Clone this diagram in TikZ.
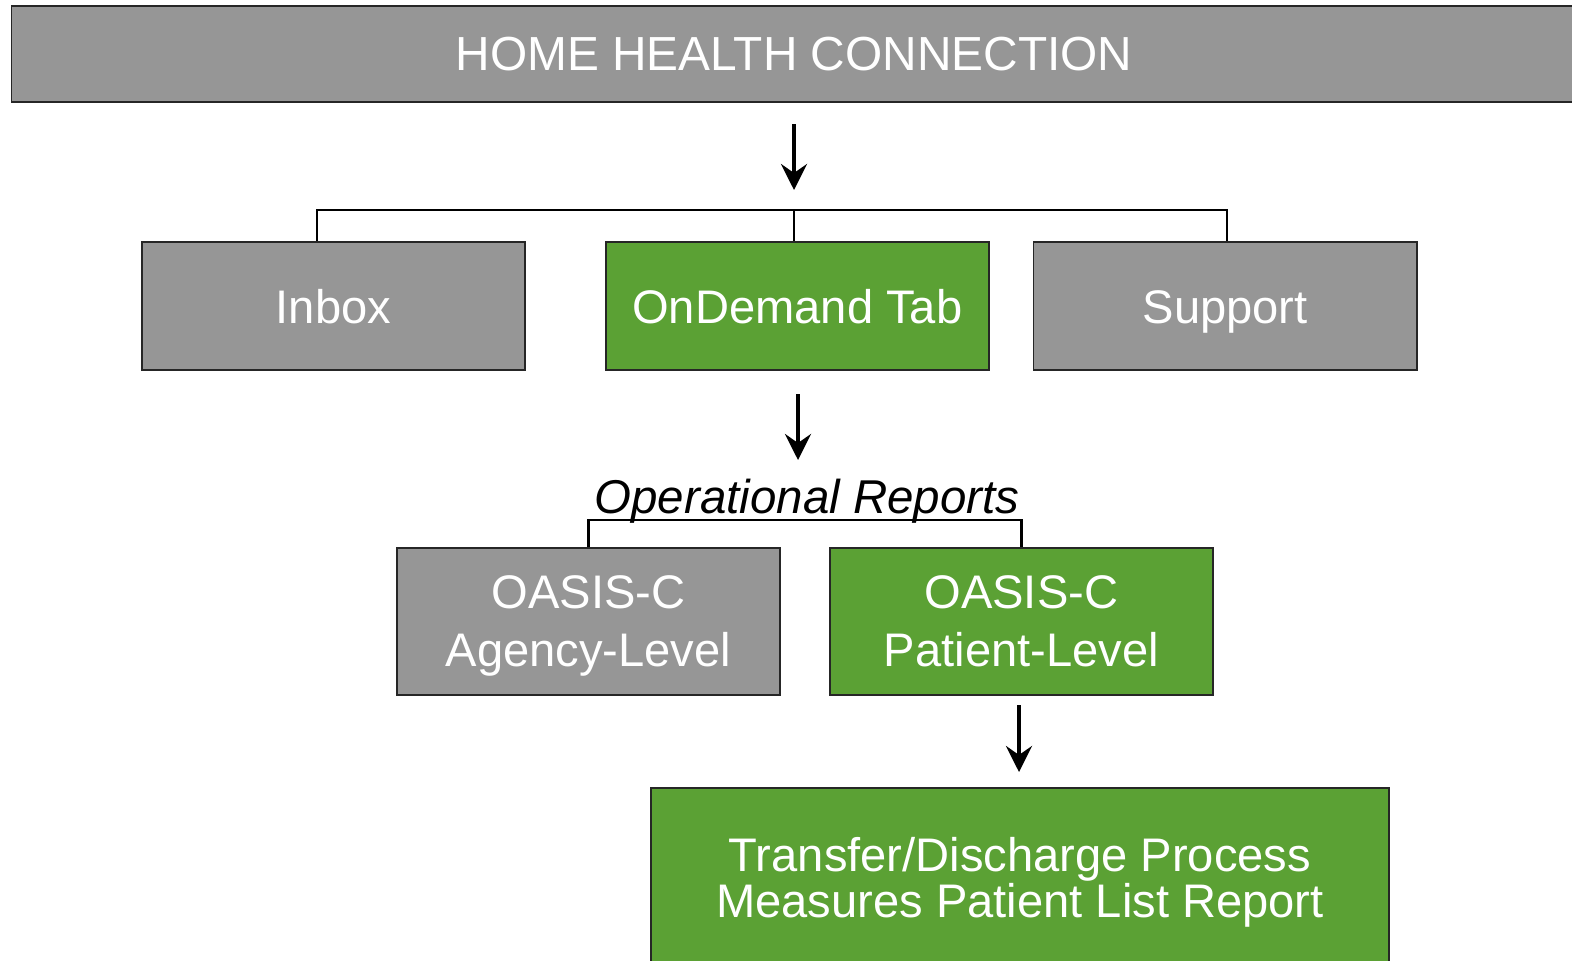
\documentclass[tikz,border=0pt]{standalone}
\usepackage{fontspec}
\setmainfont{Liberation Sans}
\usepackage{tikz}
\usetikzlibrary{arrows.meta, positioning}
\definecolor{boxgray}{RGB}{150,150,150}
\definecolor{boxgreen}{RGB}{91,161,52}

\begin{document}
\begin{tikzpicture}[x=0.01cm, y=-0.01cm,
        graybox/.style={draw=black!85, line width=0.45pt, fill=boxgray, text=white, align=center, inner sep=0pt, font=\fontsize{13.4}{16.5}\selectfont},
        greenbox/.style={graybox, fill=boxgreen},
        tabbox/.style={minimum width=3.83cm, minimum height=1.28cm, text height=10pt, text depth=0pt},
        levelbox/.style={minimum width=3.83cm, minimum height=1.47cm, text depth=0pt},
        downarrow/.style={-{Stealth[length=2.6mm, width=2.6mm, inset=0.9mm]}, line width=1.1pt},
        bracket/.style={line width=0.7pt}]
        \useasboundingbox (0,0) rectangle (1572,960);

        % Top bar
        \node[graybox, minimum width=15.64cm, minimum height=0.96cm, font=\fontsize{13.6}{16.5}\selectfont] (hhc) at (794,54) {HOME HEALTH CONNECTION};

        % Tabs
        \node[graybox, tabbox] (inbox) at (333.5,306) {Inbox};
        \node[greenbox, tabbox, right=0.79cm of inbox] (ondemand) {OnDemand Tab};
        \node[graybox, tabbox, right=0.43cm of ondemand] (support) {Support};

        % Arrow and bracket to tabs
        \coordinate (a1top) at (794,124);
        \coordinate (a1tip) at (794,190);
        \draw[downarrow] (a1top) -- (a1tip);
        \coordinate (brL) at (317,210);
        \coordinate (brR) at (1227,210);
        \draw[bracket] (brL |- inbox.north) -- (brL) -- (brR) -- (brR |- support.north);
        \draw[bracket] (a1tip |- brL) -- (a1tip |- ondemand.north);

        % Operational reports
        \coordinate (a2top) at (798,394);
        \coordinate (a2tip) at (798,460);
        \draw[downarrow] (a2top) -- (a2tip);
        \node[font=\fontsize{13.5}{16}\selectfont\itshape, inner sep=0pt] (opreports) at (807,501) {Operational Reports};

        \node[graybox, levelbox] (agency) at (588.5,621.5) {OASIS-C\\Agency-Level};
        \node[greenbox, levelbox, right=0.48cm of agency] (patient) {OASIS-C\\Patient-Level};
        \draw[bracket] (agency.north) -- ++(0,-27) -| (patient.north);

        % Report
        \coordinate (a3top) at (1019,705);
        \coordinate (a3tip) at (1019,772);
        \draw[downarrow] (a3top) -- (a3tip);
        \node[greenbox, minimum width=7.38cm, minimum height=1.88cm, font=\fontsize{13.4}{13.1}\selectfont] (tdreport) at (1020,882) {Transfer/Discharge Process\\Measures Patient List Report};
\end{tikzpicture}
\end{document}
